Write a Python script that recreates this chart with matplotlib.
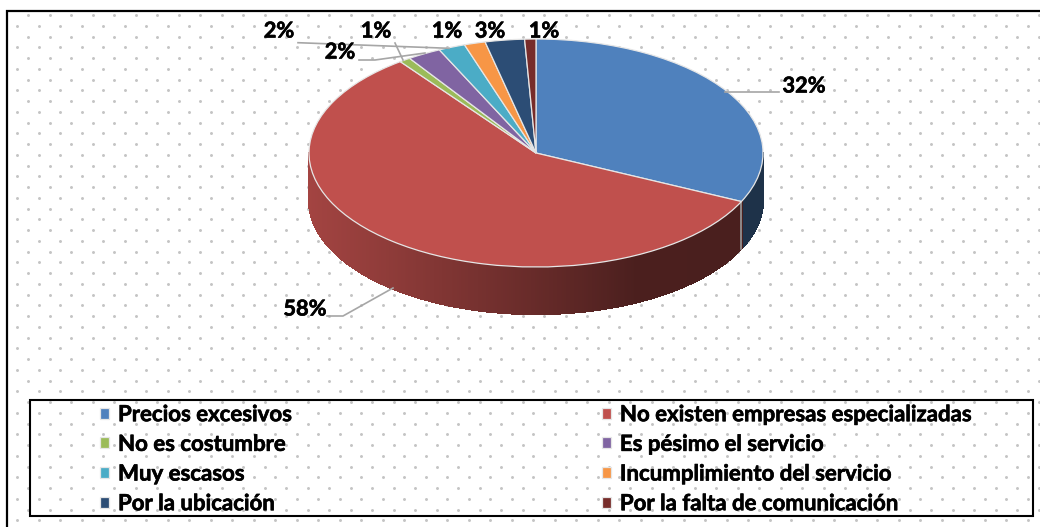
import numpy as np
import matplotlib
matplotlib.use("Agg")
import matplotlib.pyplot as plt
import matplotlib.patheffects as pe
from matplotlib.collections import PolyCollection
from matplotlib.patches import Rectangle
from matplotlib.colors import to_rgb

categories = ["Precios excesivos", "No existen empresas especializadas", "No es costumbre",
              "Es pésimo el servicio", "Muy escasos", "Incumplimiento del servicio",
              "Por la ubicación", "Por la falta de comunicación"]
values = [32.0, 57.8, 0.8, 2.4, 1.9, 1.5, 2.8, 0.8]
colors = ["#4F81BD", "#C0504D", "#9BBB59", "#8064A2", "#4BACC6", "#F79646", "#2C4D75", "#772C2A"]
value_labels = ["32%", "58%", "1%", "2%", "2%", "1%", "3%", "1%"]

W, H = 1040, 527
plt.rcParams["font.family"] = ["Lato", "DejaVu Sans"]
plt.rcParams["font.weight"] = "bold"
FS = 15.7
LEG_FS = 16.0
bold = [pe.withStroke(linewidth=0.45, foreground="black")]
fig = plt.figure(figsize=(W / 100, H / 100), dpi=100, facecolor="white")

# pixel-space overlay for chart furniture
bg = fig.add_axes([0, 0, 1, 1], zorder=0)
bg.set_xlim(0, W); bg.set_ylim(H, 0); bg.axis("off")
rows = np.arange(15, H, 10.75)
for i, yy in enumerate(rows):
    xs = np.arange(28 if i % 2 == 0 else 17, W, 21.5)
    bg.scatter(xs, np.full_like(xs, yy), s=4.5, color="#c4c4c4", linewidths=0)
bg.plot([7, 7, W + 5], [H + 5, 10.5, 10.5], color="black", lw=1.6, solid_joinstyle="miter")
bg.add_patch(Rectangle((30, 399.5), 1002.5, 116.5, fill=False, ec="black", lw=1.5))

# pie: radius 1 maps to 227 x 114 px around (536, 153)
cx, cy, rx, ry, depth_px = 536, 153, 227, 114, 47
ax = fig.add_axes([(cx - 1.25 * rx) / W, 1 - (cy + 1.25 * ry) / H, 2.5 * rx / W, 2.5 * ry / H], zorder=1)
wedges, _ = ax.pie(values, colors=colors, startangle=90, counterclock=False,
                   wedgeprops=dict(edgecolor="#e6e6e6", linewidth=0.9))
for w in wedges:
    w.set_zorder(3)
ax.set_aspect("auto")
ax.set_xlim(-1.25, 1.25); ax.set_ylim(-1.25, 1.25)
ax.patch.set_alpha(0)
depth = depth_px / ry

# side wall
polys, fcs = [], []
for w, c in zip(wedges, colors):
    t1, t2 = w.theta1 % 360, w.theta2 % 360
    if t2 <= t1:
        t2 += 360
    lo, hi = max(t1, 180), min(t2, 360)
    if hi <= lo:
        continue
    edges = np.radians(np.append(np.arange(lo, hi, 0.5), hi))
    rgb = np.array(to_rgb(c))
    for a, b in zip(edges[:-1], edges[1:]):
        xa, ya, xb, yb = np.cos(a), np.sin(a), np.cos(b), np.sin(b)
        polys.append([(xa, ya), (xb, yb), (xb, yb - depth), (xa, ya - depth)])
        shade = np.interp((xa + xb) / 2, [-1, -0.6, 0.15, 0.45, 1], [0.85, 0.73, 0.49, 0.39, 0.385])
        fcs.append(rgb * shade)
ax.add_collection(PolyCollection(polys, facecolors=fcs, edgecolors=fcs, linewidths=1.0,
                                 antialiaseds=False, zorder=2, clip_on=False))
sep = np.radians(wedges[0].theta1 % 360)
ax.plot([np.cos(sep)] * 2, [np.sin(sep), np.sin(sep) - depth], color="#9a9a9a", lw=1.2, zorder=2.5, clip_on=False)

# overlay with leader lines and data labels
top = fig.add_axes([0, 0, 1, 1], zorder=2)
top.set_xlim(0, W); top.set_ylim(H, 0); top.axis("off")
leaders = [([725, 779], [92.3, 92.3]),
           ([327, 343, 393], [316, 316, 288]),
           ([395, 403], [43, 60]),
           ([359, 375, 425], [60, 60, 53]),
           ([298, 449], [42.7, 48.3])]
for xs, ys in leaders:
    top.plot(xs, ys, color="#A6A6A6", lw=1.2)
label_pos = [(804, 86), (305, 309), (376, 31), (340, 52), (279, 31), (447, 31), (490, 31), (544, 31)]
for (x, y), s in zip(label_pos, value_labels):
    top.text(x, y, s, ha="center", va="center", fontsize=FS, color="black", fontweight="bold", path_effects=bold)

# legend, filled row by row
order = [0, 2, 4, 6, 1, 3, 5, 7]
leg = top.legend([wedges[i] for i in order], [categories[i] for i in order], ncol=2,
                 loc="upper left", bbox_to_anchor=(100 / W, 1 - 404.2 / H), bbox_transform=fig.transFigure,
                 frameon=False, fontsize=LEG_FS, borderpad=0, borderaxespad=0,
                 handlelength=0.39, handleheight=0.39, handletextpad=0.42,
                 columnspacing=13.9, labelspacing=0.39)
for t in leg.get_texts():
    t.set_path_effects(bold)

fig.savefig("out.png", dpi=100)
